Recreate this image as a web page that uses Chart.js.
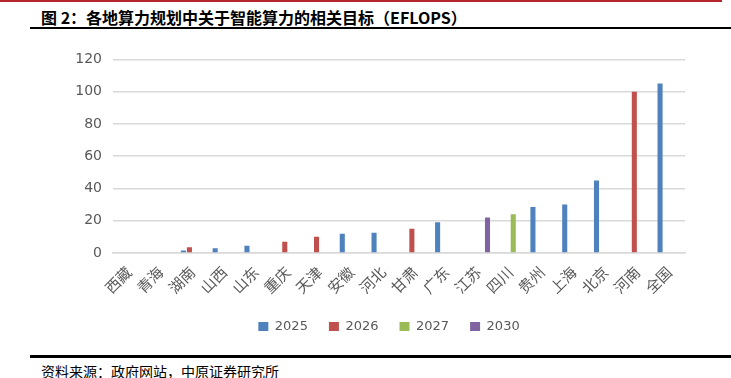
<!DOCTYPE html>
<html>
<head>
<meta charset="utf-8">
<script src="https://cdn.jsdelivr.net/npm/chart.js@4.4.0/dist/chart.umd.min.js"></script>
<style>
  body { margin: 0; width: 731px; height: 378px; background: #fff; position: relative; overflow: hidden; }
  .topline { position: absolute; left: 0; top: 0; width: 722px; height: 2px; background: #b3262b; }
  .title { position: absolute; left: 41px; top: 5px; line-height: 16px; font: bold 16px "Noto Sans CJK SC", sans-serif; color: #000; }
  .rule1 { position: absolute; left: 30px; top: 27px; width: 701px; height: 2px; background: #000; }
  .rule2 { position: absolute; left: 30px; top: 355px; width: 701px; height: 3px; background: #000; }
  .source { position: absolute; left: 41px; top: 361px; line-height: 14px; font: 14px "Noto Sans CJK SC", sans-serif; color: #000; }
  .wrap { position: absolute; left: 0; top: 40px; width: 731px; height: 310px; }
</style>
</head>
<body>
<div class="topline"></div>
<div class="title">图 2：各地算力规划中关于智能算力的相关目标（EFLOPS）</div>
<div class="rule1"></div>
<div class="wrap"><canvas id="chart"></canvas></div>
<div class="rule2"></div>
<div class="source">资料来源：政府网站，中原证券研究所</div>
<script>
// --- Data ---
const regions = ['西藏', '青海', '湖南', '山西', '山东', '重庆', '天津', '安徽', '河北',
                 '甘肃', '广东', '江苏', '四川', '贵州', '上海', '北京', '河南', '全国'];
const years = ['2025', '2026', '2027', '2030'];
const target2025 = [null, null, 1.5, 3, 4.5, null, null, 12, 12.5, null, 19, null, null, 28.5, 30, 45, null, 105];
const target2026 = [null, null, 3.5, null, null, 7, 10, null, null, 15, null, null, null, null, null, null, 100, null];
const target2027 = [null, null, null, null, null, null, null, null, null, null, null, null, 24, null, null, null, null, null];
const target2030 = [null, null, null, null, null, null, null, null, null, null, null, 22, null, null, null, null, null, null];
const yTicks = [0, 20, 40, 60, 80, 100, 120];

const colors = ['#4f81bd', '#c0504d', '#9bbb59', '#8064a2'];
const series = [target2025, target2026, target2027, target2030];

// Shift the legend so its row sits where the reference has it
const legendPlace = {
    id: 'legendPlace',
    afterLayout(chart) {
        const lg = chart.legend;
        const cx = 389, cy = 287;
        lg.left = cx * 2 - 731;
        lg.right = 731;
        const h = lg.bottom - lg.top;
        lg.top = cy - lg.options.labels.padding - 7;
        lg.bottom = lg.top + h;
    }
};

document.addEventListener('DOMContentLoaded', () => {
    const ctx = document.getElementById('chart').getContext('2d');
    new Chart(ctx, {
        type: 'bar',
        data: {
            labels: regions,
            datasets: years.map((y, i) => ({
                label: y,
                data: series[i],
                backgroundColor: colors[i],
                borderWidth: 0,
                categoryPercentage: 0.76,
                barPercentage: 0.84
            }))
        },
        options: {
            responsive: true,
            maintainAspectRatio: false,
            animation: false,
            layout: { padding: { left: 0, right: 46, top: 17, bottom: 0 } },
            plugins: {
                legend: {
                    position: 'bottom',
                    labels: {
                        boxWidth: 10,
                        boxHeight: 9,
                        padding: 21,
                        color: '#595959',
                        font: { size: 13, family: 'DejaVu Sans' }
                    }
                },
                tooltip: { enabled: false }
            },
            scales: {
                y: {
                    min: 0,
                    max: 120,
                    afterBuildTicks: s => { s.ticks = yTicks.map(v => ({ value: v })); },
                    afterFit: s => { s.width = 113; },
                    grid: { color: '#d9d9d9', lineWidth: 1.5, drawTicks: false },
                    border: { display: false },
                    ticks: {
                        padding: 11,
                        color: '#595959',
                        font: { size: 14, family: 'DejaVu Sans' }
                    }
                },
                x: {
                    afterFit: s => {
                        const lgH = s.chart.legend ? s.chart.legend.height : 0;
                        s.height = 310 - 213 - lgH;
                    },
                    grid: { display: false },
                    border: { color: '#d9d9d9', width: 1.5 },
                    ticks: {
                        maxRotation: 45,
                        minRotation: 45,
                        autoSkip: false,
                        padding: 2,
                        color: '#595959',
                        font: { size: 15, family: 'Noto Sans CJK SC' }
                    }
                }
            }
        },
        plugins: [legendPlace]
    });
});
</script>
</body>
</html>
